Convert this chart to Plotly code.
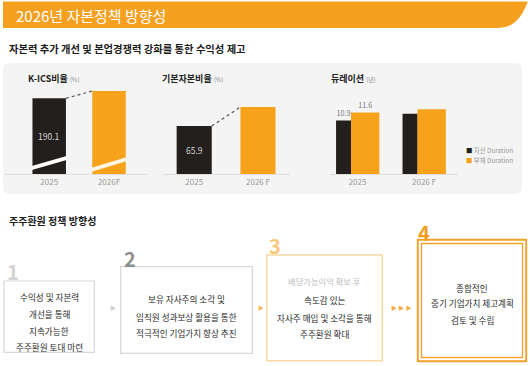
import plotly.graph_objects as go

W, H = 530, 366

# ---------------- data ----------------
kics_years = ["2025", "2026F"]
kics_values = [190.1, 200.0]          # 2026F
basic_years = ["2025", "2026 F"]
basic_values = [65.9, 80.0]           # 2026F
dur_years = ["2025", "2026 F"]
asset_duration = [10.9, 11.5]         # 2026F estimated
liab_duration = [11.6, 11.9]          # 2026F estimated
dur_label_shown = [True, False]
legend_names = ["자산 Duration", "부채 Duration"]

ORANGE = "#f7a21b"
DARK = "#231f1c"
FONT = "Noto Sans CJK KR"


def X(p):
    return p / W


def Y(p):
    return 1 - p / H


fig = go.Figure()

# ---- chart 1 : K-ICS ----
k_x = list(range(len(kics_years)))
k_w = 0.56
fig.add_trace(go.Bar(x=k_x, y=kics_values, width=k_w, marker=dict(color=[DARK, ORANGE], line_width=0),
                     xaxis="x", yaxis="y", hoverinfo="skip", showlegend=False))
# axis-break bands (decorative)
k_breaks = [(92.8, 98.3, 106.4, 111.8), (90.5, 96.0, 104.6, 110.1)]
for i, (lb, lt, rb, rt) in enumerate(k_breaks):
    x0, x1 = k_x[i] - k_w / 2 - 0.01, k_x[i] + k_w / 2 + 0.01
    fig.add_trace(go.Scatter(x=[x0, x1, x1, x0, x0], y=[lb, rb, rt, lt, lb], fill="toself",
                             fillcolor="#ffffff" if i == 0 else "#fff6e4", mode="none",
                             xaxis="x", yaxis="y", hoverinfo="skip", showlegend=False))
fig.add_trace(go.Scatter(x=[k_x[0] + k_w / 2, k_x[1] - k_w / 2], y=kics_values, mode="lines",
                         line=dict(color="#555555", width=1.2, dash="dot"),
                         xaxis="x", yaxis="y", hoverinfo="skip", showlegend=False))

# ---- chart 2 : basic capital ratio ----
b_x = list(range(len(basic_years)))
b_w = 0.55
fig.add_trace(go.Bar(x=b_x, y=basic_values, width=b_w, marker=dict(color=[DARK, ORANGE], line_width=0),
                     xaxis="x2", yaxis="y2", hoverinfo="skip", showlegend=False))
fig.add_trace(go.Scatter(x=[b_x[0] + b_w / 2, b_x[1] - b_w / 2], y=basic_values, mode="lines",
                         line=dict(color="#555555", width=1.2, dash="dot"),
                         xaxis="x2", yaxis="y2", hoverinfo="skip", showlegend=False))

# ---- chart 3 : duration ----
d_x = list(range(len(dur_years)))
fig.add_trace(go.Bar(x=d_x, y=asset_duration, width=0.226, offset=-0.323,
                     marker=dict(color=DARK, line_width=0),
                     text=[f"{v}" if s else "" for v, s in zip(asset_duration, dur_label_shown)],
                     textposition="outside", constraintext="none",
                     textfont=dict(size=7.2, color="#777777", family=FONT),
                     xaxis="x3", yaxis="y3", hoverinfo="skip", showlegend=False))
fig.add_trace(go.Bar(x=d_x, y=liab_duration, width=0.426, offset=-0.098,
                     marker=dict(color=ORANGE, line_width=0),
                     text=[f"{v}" if s else "" for v, s in zip(liab_duration, dur_label_shown)],
                     textposition="outside", constraintext="none",
                     textfont=dict(size=7.2, color="#777777", family=FONT),
                     xaxis="x3", yaxis="y3", hoverinfo="skip", showlegend=False))

ybot, ytop = Y(174.3), Y(85)
xcommon = dict(type="linear", showgrid=False, zeroline=False, showline=True, linecolor="#dedede",
               linewidth=1, ticks="", tickfont=dict(size=8, color="#9a9a9a", family=FONT), fixedrange=True)
ycommon = dict(visible=False, showgrid=False, zeroline=False, fixedrange=True)

fig.update_layout(
    xaxis=dict(domain=[X(5), X(147)], range=[-0.739, 1.635], tickvals=k_x, ticktext=kics_years,
               anchor="y", **xcommon),
    yaxis=dict(domain=[ybot, ytop], range=[87, 208.2], anchor="x", **ycommon),
    xaxis2=dict(domain=[X(163), X(290)], range=[-0.489, 1.502], tickvals=b_x, ticktext=basic_years,
                anchor="y2", **xcommon),
    yaxis2=dict(domain=[ybot, ytop], range=[30, 96.4], anchor="x2", **ycommon),
    xaxis3=dict(domain=[X(330), X(458)], range=[-0.414, 1.511], tickvals=d_x, ticktext=dur_years,
                anchor="y3", **xcommon),
    yaxis3=dict(domain=[ybot, ytop], range=[6.2, 14.01], anchor="x3", **ycommon),
    barmode="overlay",
)

# ---------------- decorative shapes ----------------
shapes = []
# header
hp = (f"M {X(3)},{Y(1.5)} L {X(528)},{Y(1.5)} C {X(522)},{Y(16)} {X(515)},{Y(28)} {X(497)},{Y(28)} "
      f"L {X(3)},{Y(28)} Z")
shapes.append(dict(type="path", path=hp, xref="paper", yref="paper", fillcolor="#f6a020",
                   line=dict(width=0), layer="below"))


def rrect(x0, y0, x1, y1, r):
    return (f"M {X(x0 + r)},{Y(y0)} L {X(x1 - r)},{Y(y0)} Q {X(x1)},{Y(y0)} {X(x1)},{Y(y0 + r)} "
            f"L {X(x1)},{Y(y1 - r)} Q {X(x1)},{Y(y1)} {X(x1 - r)},{Y(y1)} "
            f"L {X(x0 + r)},{Y(y1)} Q {X(x0)},{Y(y1)} {X(x0)},{Y(y1 - r)} "
            f"L {X(x0)},{Y(y0 + r)} Q {X(x0)},{Y(y0)} {X(x0 + r)},{Y(y0)} Z")


shapes.append(dict(type="path", path=rrect(3, 63, 522, 194, 7), xref="paper", yref="paper",
                   fillcolor="#f4f4f4", line=dict(width=0), layer="below"))


def rect(x0, y0, x1, y1, color, width):
    return dict(type="rect", xref="paper", yref="paper", x0=X(x0), x1=X(x1), y0=Y(y1), y1=Y(y0),
                line=dict(color=color, width=width), fillcolor="rgba(0,0,0,0)", layer="above")


shapes.append(rect(4, 281, 94.3, 352.3, "#d8d8d8", 1.2))
shapes.append(rect(120.7, 266.7, 252.3, 353.3, "#d8d8d8", 1.2))
shapes.append(rect(266.7, 255, 382.3, 360.7, "#f8d8a4", 1.6))
shapes.append(rect(417.8, 239.8, 526.2, 361.2, "#f2a22c", 2.0))
shapes.append(rect(421.5, 243.5, 522.5, 357.5, "#f2a22c", 1.3))
fig.update_layout(shapes=shapes)

# ---------------- texts ----------------
ann = []


def T(x, y, text, size, color="#2b2b2b", xanchor="center", bold=False):
    if bold:
        text = f"<b>{text}</b>"
    ann.append(dict(x=X(x), y=Y(y), xref="paper", yref="paper", text=text, showarrow=False,
                    xanchor=xanchor, yanchor="middle", font=dict(size=size, color=color, family=FONT)))


T(14, 15, "2026년 자본정책 방향성", 15, "#ffffff", "left")
T(7, 48, "자본력 추가 개선 및 본업경쟁력 강화를 통한 수익성 제고", 10.3, "#1a1a1a", "left", True)

T(26, 78, "<b>K-ICS비율</b> <span style='font-size:6px;color:#8a8a8a'>(%)</span>", 9, "#222222", "left")
T(160, 78, "<b>기본자본비율</b> <span style='font-size:6px;color:#8a8a8a'>(%)</span>", 9, "#222222", "left")
T(329, 78, "<b>듀레이션</b> <span style='font-size:6px;color:#8a8a8a'>(년)</span>", 9, "#222222", "left")

# value labels inside bars (data coords)
ann.append(dict(x=k_x[0], y=(87 + kics_values[0]) / 2, xref="x", yref="y", text=f"{kics_values[0]}",
                showarrow=False, font=dict(size=8.5, color="#d6d6d6", family=FONT)))
ann.append(dict(x=b_x[0], y=(30 + basic_values[0]) / 2, xref="x2", yref="y2", text=f"{basic_values[0]}",
                showarrow=False, font=dict(size=8.5, color="#d6d6d6", family=FONT)))

# legend
T(464, 150.7, f"<span style='color:{DARK}'>■</span> {legend_names[0]}", 6.4, "#9a9a9a", "left")
T(464, 160.7, f"<span style='color:{ORANGE}'>■</span> {legend_names[1]}", 6.4, "#9a9a9a", "left")

T(7, 220, "주주환원 정책 방향성", 10, "#1a1a1a", "left", True)

# step numbers
T(13, 271.5, "1", 20, "#d3d3d3", bold=True)
T(129.5, 258, "2", 20, "#8e8e8e", bold=True)
T(274.5, 245, "3", 20, "#f8c87a", bold=True)
T(424, 232, "4", 20, "#f29c1f", bold=True)

# arrows
T(112.7, 307.3, "▶", 6, "#d0d0d0")
T(261, 307.3, "▶", 6, "#f5bb60")
T(401, 307.3, "▶ ▶ ▶", 6, "#f5ac40")

for yy, t in zip([297.3, 314, 330.7, 347.3], ["수익성 및 자본력", "개선을 통해", "지속가능한", "주주환원 토대 마련"]):
    T(49, yy, t, 8.6)
for yy, t in zip([299, 316.7, 333.3], ["보유 자사주의 소각 및", "임직원 성과보상 활용을 통한", "적극적인 기업가치 향상 추진"]):
    T(186.5, yy, t, 8.6)
T(324.5, 281, "배당가능이익 확보 후", 8.3, "#bdbdbd")
for yy, t in zip([300, 317.7, 334.3], ["속도감 있는", "자사주 매입 및 소각을 통해", "주주환원 확대"]):
    T(324.5, yy, t, 8.6)
for yy, t in zip([287.7, 303.3, 320], ["종합적인", "중기 기업가치 제고계획", "검토 및 수립"]):
    T(472, yy, t, 8.6)

fig.update_layout(annotations=ann, width=W, height=H, margin=dict(l=0, r=0, t=0, b=0),
                  paper_bgcolor="#ffffff", plot_bgcolor="rgba(0,0,0,0)",
                  font=dict(family=FONT), showlegend=False)

fig.write_html("out.html", config={"displayModeBar": False},
               post_script="document.body.style.margin='0px';document.body.style.overflow='hidden';")
